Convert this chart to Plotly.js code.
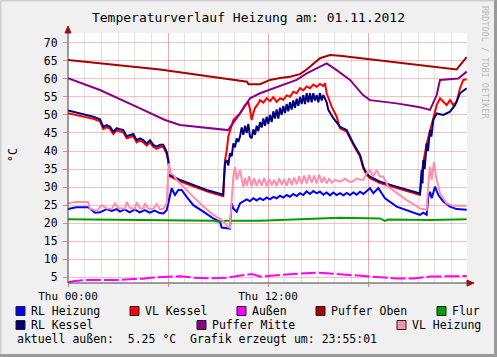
<!DOCTYPE html>
<html><head><meta charset="utf-8">
<script src="https://cdn.plot.ly/plotly-3.0.1.min.js"></script>
<style>html,body{margin:0;padding:0;background:#f0f0f0;}#chart{width:497px;height:357px;}</style>
</head><body><div id="chart"></div>
<script>
// ---- data (time in hours since Thu 00:00, values in °C) ----
const rlHeizungT = [0,0.5,1.22,1.62,1.92,2.32,2.62,2.92,3.12,3.4,3.7,4.0,4.3,4.6,4.9,5.2,5.5,5.72,5.92,6.12,6.22,6.32,6.42,6.62,6.82,7.12,7.52,8.12,8.72,9.12,9.22,9.72,9.82,9.92,10.12,10.32,10.72,10.92,11.12,11.32,11.52,11.72,11.92,12.12,12.32,12.52,12.72,12.92,13.12,13.32,13.52,13.72,13.92,14.12,14.32,14.52,14.72,14.92,15.12,15.32,15.52,15.72,15.92,16.12,16.32,16.52,16.72,16.92,17.12,17.32,17.52,17.72,17.92,18.12,18.32,18.62,18.82,19.02,19.72,20.52,21.12,21.32,21.52,21.62,21.72,21.82,22.02,22.22,22.52,22.92,23.32,23.92];
const rlHeizungV = [23.9,24.4,24.4,22.9,23.0,23.9,23.4,23.9,23.2,23.8,23.0,23.8,23.0,23.6,22.9,23.5,22.8,22.7,23.6,28.3,29.7,28.7,27.8,29.2,29.2,27.3,25.0,23.2,21.3,20.4,18.8,18.5,25.5,24.1,23.2,25.5,26.6,26.1,26.9,26.3,26.9,26.4,27.1,26.6,27.3,26.9,27.6,27.1,27.8,27.3,28.1,27.5,28.3,27.8,28.8,28.1,28.9,28.3,28.7,27.9,28.5,27.7,28.5,27.8,28.3,27.7,28.4,27.8,28.5,27.9,28.7,28.1,29.0,29.7,28.3,29.7,28.3,26.9,24.6,23.2,22.3,22.9,22.3,27.3,28.7,26.9,30.1,27.8,26.0,24.6,23.9,23.7];

const vlKesselT = [0,0.5,0.92,1.52,1.92,2.12,2.32,2.52,2.72,2.92,3.12,3.32,3.52,3.72,3.92,4.12,4.32,4.52,4.72,4.92,5.12,5.32,5.52,5.72,5.92,6.02,6.12,6.32,6.72,7.52,8.32,9.22,9.32,9.42,9.52,9.62,9.72,9.92,10.12,10.32,10.62,10.82,10.92,11.02,11.12,11.22,11.42,11.52,11.72,11.92,12.12,12.32,12.52,12.72,12.92,13.12,13.32,13.52,13.72,13.92,14.12,14.32,14.52,14.72,14.92,15.12,15.32,15.42,15.52,15.82,16.12,16.32,16.72,17.12,17.52,17.72,17.92,18.12,18.72,19.5,20.3,21.12,21.22,21.32,21.52,21.72,21.92,22.12,22.32,22.52,22.72,22.92,23.12,23.32,23.52,23.72,23.92];
const vlKesselV = [50.5,50.0,49.6,48.9,48.2,46.1,46.6,46.1,44.7,45.7,45.4,45.2,43.5,43.8,44.1,42.4,42.9,42.4,41.5,42.4,41.1,40.6,41.1,41.1,39.2,37.0,33.0,32.5,31.6,30.2,28.8,27.6,27.5,37.5,40.0,44.0,45.8,48.6,49.5,50.4,52.7,53.6,51.5,48.6,50.5,51.9,53.2,54.1,53.4,54.6,53.8,54.9,53.6,54.6,54.2,55.4,55.0,56.4,56.0,57.4,56.8,57.9,57.4,58.4,57.8,58.6,58.0,58.8,56.0,52.3,49.5,46.3,45.4,41.7,38.5,35.2,33.4,32.5,31.1,30.0,28.9,27.8,33.5,37.0,42.0,45.8,49.5,52.7,54.6,53.6,52.7,54.1,52.7,53.6,57.4,59.7,59.9];

const aussenT = [0,0.3,1.1,1.92,2.92,3.92,4.52,4.92,5.92,6.72,7.52,8.52,9.52,10.32,11.02,11.52,12.52,13.52,14.92,16.32,17.7,19.72,20.72,21.72,23.92];
const aussenV = [3.6,3.9,4.25,4.25,4.25,4.5,4.6,4.9,5.1,5.3,4.9,4.7,4.9,5.35,5.9,5.2,5.6,5.9,6.3,5.8,5.4,4.7,4.7,5.2,5.35];

const pufferObenT = [0,5.52,10.74,10.83,11.52,12.12,12.72,13.32,13.92,14.32,15.12,15.72,16.32,23.32,23.92];
const pufferObenV = [65.2,62.6,59.2,58.5,58.5,59.7,60.2,60.6,61.3,62.6,65.7,66.6,66.4,62.6,66.0];

const flurT = [0,5.92,8.72,9.0,9.52,11.52,13.52,16.32,18.72,19.02,19.22,21.72,23.92];
const flurV = [21.1,20.7,20.7,20.4,20.7,20.7,21.1,21.5,21.3,20.6,21.0,20.9,21.1];

const rlKesselT = [0,0.5,0.92,1.52,1.92,2.12,2.32,2.52,2.72,2.92,3.12,3.32,3.52,3.72,3.92,4.12,4.32,4.52,4.72,4.92,5.12,5.32,5.52,5.72,5.92,6.02,6.12,6.32,6.72,7.52,8.32,9.22,9.3,9.42,9.52,9.62,9.72,9.82,9.92,10.02,10.12,10.22,10.32,10.42,10.52,10.62,10.72,10.82,10.92,11.02,11.12,11.22,11.32,11.42,11.52,11.62,11.72,11.82,11.92,12.02,12.12,12.22,12.32,12.42,12.52,12.62,12.72,12.82,12.92,13.02,13.12,13.22,13.32,13.42,13.52,13.62,13.72,13.82,13.92,14.02,14.12,14.22,14.32,14.42,14.52,14.62,14.72,14.82,14.92,15.02,15.12,15.22,15.32,15.42,15.52,15.62,15.92,16.32,16.72,17.12,17.52,17.72,17.92,18.12,18.72,19.5,20.3,21.12,21.22,21.27,21.32,21.4,21.52,21.6,21.72,21.8,21.92,22.12,22.52,22.92,23.22,23.52,23.92];
const rlKesselV = [51.2,50.6,50.2,49.5,48.8,46.7,47.2,46.7,45.3,46.3,46.0,45.8,44.1,44.4,44.7,43.0,43.5,43.0,42.1,43.0,41.7,41.2,41.7,41.7,39.8,37.5,33.4,32.9,32.0,30.6,29.2,28.0,27.8,36.7,37.5,36.0,39.4,38.5,42.1,41.0,43.5,42.5,44.0,46.5,44.5,47.0,45.0,47.5,44.0,43.5,46.0,44.5,47.0,45.5,48.0,46.5,49.0,47.0,49.5,47.5,50.0,48.0,51.0,49.0,51.5,49.0,52.0,50.0,52.5,50.5,53.0,51.0,53.5,51.5,54.0,52.0,54.5,52.5,55.0,53.0,55.5,53.0,56.0,53.5,56.0,53.5,56.0,54.0,55.5,53.5,56.0,54.0,55.5,54.5,53.5,51.4,49.1,46.7,45.8,42.1,38.9,35.6,33.8,32.9,31.5,30.4,29.3,28.2,34.7,31.0,37.5,35.0,42.1,40.0,45.8,44.0,48.6,50.4,50.0,50.9,52.7,56.0,57.4];

const pufferMitteT = [0,1.92,4.32,5.82,6.72,7.12,8.52,9.6,10.32,10.92,11.52,12.72,13.72,14.32,15.12,15.52,16.12,16.92,17.7,18.12,19.72,21.12,21.72,22.12,22.32,23.42,23.92];
const pufferMitteV = [60.2,56.9,51.8,48.6,47.2,47.0,46.5,45.8,50.4,54.6,56.0,58.0,59.7,61.5,63.5,64.3,62.4,59.7,55.5,54.1,53.2,52.1,51.4,55.5,59.7,60.1,62.0];

const vlHeizungT = [0,0.5,1.2,1.32,1.72,2.02,2.32,2.62,2.82,3.02,3.42,3.52,3.72,4.02,4.12,4.32,4.52,4.62,4.82,5.12,5.32,5.52,5.72,5.92,6.02,6.07,6.12,6.32,6.52,6.72,7.12,7.52,8.12,8.72,9.22,9.32,9.6,9.72,9.82,9.92,10.02,10.12,10.32,10.52,10.62,10.72,10.87,11.02,11.17,11.32,11.47,11.62,11.77,11.92,12.07,12.22,12.37,12.52,12.67,12.82,12.97,13.12,13.27,13.42,13.57,13.72,13.87,14.02,14.17,14.32,14.47,14.62,14.77,14.92,15.07,15.22,15.37,15.52,15.67,15.82,16.02,16.32,16.62,16.92,17.12,17.32,17.52,17.72,17.92,18.12,18.32,18.52,18.72,18.92,19.22,19.72,20.32,21.12,21.52,21.62,21.72,21.82,21.96,22.08,22.32,22.72,23.12,23.92];
const vlHeizungV = [25.5,25.9,25.9,24.1,23.4,25.0,24.1,24.0,25.5,24.2,24.0,25.9,24.2,24.0,25.7,24.2,24.0,25.5,24.0,24.0,25.3,23.8,24.0,25.5,34.7,36.6,33.8,33.4,32.0,31.0,29.2,27.3,24.6,22.3,20.9,20.5,19.0,18.8,26.4,32.9,35.6,32.0,34.7,30.1,32.5,30.4,33.0,30.2,32.4,30.3,32.2,30.4,32.6,30.2,32.3,30.5,32.0,30.3,32.4,30.6,32.2,30.4,32.5,30.5,32.6,30.8,33.0,30.9,33.2,31.0,33.4,31.2,33.2,31.0,33.5,31.2,32.8,31.0,32.4,31.2,32.0,31.5,32.3,31.4,31.6,32.4,32.0,32.0,33.8,34.7,33.0,34.7,32.9,32.9,30.1,28.3,26.4,24.1,23.7,31.0,35.6,32.0,37.0,32.9,28.3,25.5,24.8,24.8];

const seriesNames  = ['RL Heizung','VL Kessel','Außen','Puffer Oben','Flur','RL Kessel','Puffer Mitte','VL Heizung'];
const seriesColors = ['#0000ff','#ff0000','#ff00ff','#a80000','#00a000','#000080','#880088','#ff8fb0'];
const seriesT = [rlHeizungT, vlKesselT, aussenT, pufferObenT, flurT, rlKesselT, pufferMitteT, vlHeizungT];
const seriesV = [rlHeizungV, vlKesselV, aussenV, pufferObenV, flurV, rlKesselV, pufferMitteV, vlHeizungV];

const xTickVals = [0, 6, 12, 18];
const xTickText = ['Thu 00:00', '', 'Thu 12:00', ''];
const chartTitle = 'Temperaturverlauf Heizung am: 01.11.2012';
const footerText = 'aktuell außen:  5.25 °C  Grafik erzeugt um: 23:55:01';

// ---- layout helpers (pixel -> paper) ----
const L = 68, R = 30, T = 33, B = 74, W = 497, H = 357;
const pw = W - L - R, ph = H - T - B;
const px = p => (p - L) / pw;
const py = p => (H - B - p) / ph;
const FONT = 'DejaVu Sans Mono, monospace';

const traces = seriesNames.map((n, i) => ({
  x: seriesT[i], y: seriesV[i], name: n, type: 'scatter', mode: 'lines',
  line: {color: seriesColors[i], width: 2, dash: n === 'Außen' ? '15px,3px' : 'solid'},
  hoverinfo: 'skip'
}));

// legend layout (positions are style, kept separate from data)
const legendPos = [[16,311],[130,311],[237,311],[316,311],[437,311],[16,325],[197,325],[397,325]];

const shapes = [], annotations = [];
seriesNames.forEach((n, i) => {
  const [bx, by] = legendPos[i];
  shapes.push({type:'rect', xref:'paper', yref:'paper', x0:px(bx), x1:px(bx+9), y0:py(by+4.5), y1:py(by-4.5),
    fillcolor: seriesColors[i], line:{color:'#202020', width:1}});
  annotations.push({xref:'paper', yref:'paper', x:px(bx+13), y:py(by), xanchor:'left', yanchor:'middle',
    text:n, showarrow:false, font:{family:FONT, size:11.5, color:'#000'}});
});
annotations.push({xref:'paper', yref:'paper', x:px(15), y:py(339), xanchor:'left', yanchor:'middle',
  text: footerText.replace(/ /g,'\u00a0'), showarrow:false, font:{family:FONT, size:11.5, color:'#000'}});
annotations.push({xref:'paper', yref:'paper', x:px(13), y:py(155), xanchor:'center', yanchor:'middle',
  text:'°C', textangle:-90, showarrow:false, font:{family:FONT, size:11.5, color:'#000'}});
annotations.push({xref:'paper', yref:'paper', x:px(485), y:py(62), xanchor:'center', yanchor:'middle',
  text:'RRDTOOL / TOBI OETIKER', textangle:90, showarrow:false, font:{family:FONT, size:8.5, color:'#bdbdbd'}});

// axis arrows
const AR = '#a01010';
shapes.push({type:'line', xref:'paper', yref:'paper', x0:px(68), x1:px(68), y0:py(283), y1:py(28), line:{color:'#404040', width:1}});
shapes.push({type:'path', xref:'paper', yref:'paper', path:`M ${px(68)} ${py(26)} L ${px(65)} ${py(33)} L ${px(71)} ${py(33)} Z`, fillcolor:AR, line:{color:AR, width:1}});
shapes.push({type:'line', xref:'paper', yref:'paper', x0:px(68), x1:px(471), y0:py(283), y1:py(283), line:{color:'#404040', width:1}});
shapes.push({type:'path', xref:'paper', yref:'paper', path:`M ${px(474)} ${py(283)} L ${px(467)} ${py(280)} L ${px(467)} ${py(286)} Z`, fillcolor:AR, line:{color:AR, width:1}});
// 3D frame
shapes.push({type:'line', xref:'paper', yref:'paper', x0:px(0), x1:px(497), y0:py(0.5), y1:py(0.5), line:{color:'#cfcfcf', width:2}});
shapes.push({type:'line', xref:'paper', yref:'paper', x0:px(0.5), x1:px(0.5), y0:py(0), y1:py(357), line:{color:'#cfcfcf', width:2}});
shapes.push({type:'line', xref:'paper', yref:'paper', x0:px(495.5), x1:px(495.5), y0:py(0), y1:py(357), line:{color:'#9a9a9a', width:3}});
shapes.push({type:'line', xref:'paper', yref:'paper', x0:px(0), x1:px(497), y0:py(355.5), y1:py(355.5), line:{color:'#9a9a9a', width:3}});

const GRIDRED = 'rgba(235,90,90,0.38)';
const layout = {
  width: W, height: H, autosize: false,
  margin: {l: L, r: R, t: T, b: B, pad: 0},
  paper_bgcolor: '#f0f0f0', plot_bgcolor: '#ffffff',
  showlegend: false,
  title: {text: chartTitle, x: 0.5, xref: 'container', xanchor: 'center', y: 1 - 17/H, yref: 'container', yanchor: 'middle',
          font: {family: FONT, size: 13, color: '#000'}},
  xaxis: {range: [0, 23.94], tickmode: 'array', tickvals: xTickVals, ticktext: xTickText,
          showgrid: true, gridcolor: GRIDRED, gridwidth: 1, zeroline: false, showline: false,
          ticks: 'outside', ticklen: 3, tickcolor: '#f08080',
          minor: {dtick: 1, tick0: 0, showgrid: true, gridcolor: '#e2e2e2', gridwidth: 1, ticks: ''},
          tickfont: {family: FONT, size: 11, color: '#000'}, fixedrange: true},
  yaxis: {range: [3.42, 72.7], tickmode: 'linear', tick0: 5, dtick: 5,
          showgrid: true, gridcolor: GRIDRED, gridwidth: 1, zeroline: false, showline: false,
          ticks: 'outside', ticklen: 4, tickcolor: '#f08080', ticklabelstandoff: 3,
          tickfont: {family: FONT, size: 11.5, color: '#000'}, fixedrange: true},
  shapes: shapes, annotations: annotations
};
Plotly.newPlot('chart', traces, layout, {displayModeBar: false, staticPlot: true});
</script></body></html>
